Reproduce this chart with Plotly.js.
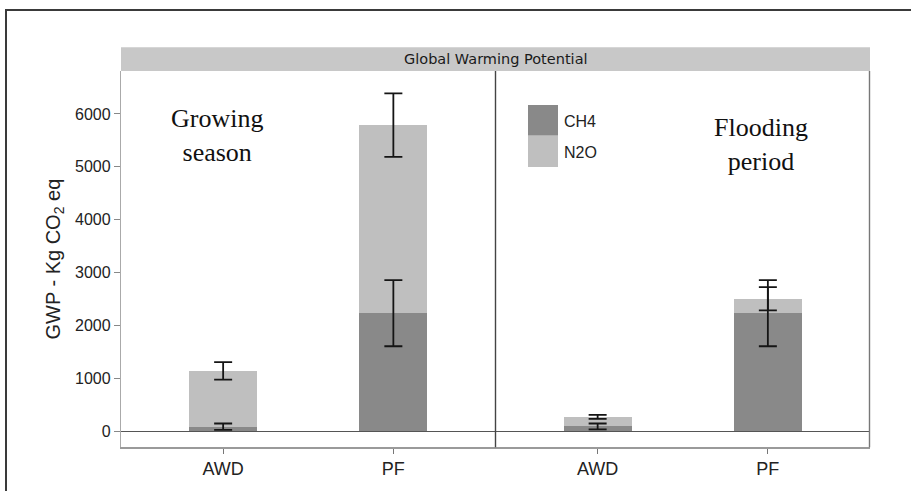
<!DOCTYPE html>
<html>
<head>
<meta charset="utf-8">
<script src="https://cdn.plot.ly/plotly-3.0.1.min.js"></script>
<style>html,body{margin:0;padding:0;background:#fff;}#chart{width:911px;height:491px;}</style>
</head>
<body>
<div id="chart"></div>
<script>
// ---- data ----
const categories = ['AWD', 'PF'];
const gases = ['CH4', 'N2O'];
// Growing season
const growingCH4 = [90, 2235];
const growingN2O = [1053, 3555];
const growingCH4Err = [60, 625];
const growingTotalErr = [165, 600];
// Flooding period
const floodingCH4 = [95, 2235];
const floodingN2O = [180, 274];
const floodingCH4Err = [55, 625];
const floodingTotalErr = [38, 220];
const yTicks = [0, 1000, 2000, 3000, 4000, 5000, 6000];

// ---- styling ----
const W = 911, H = 491;
const px = x => x / W;
const py = y => 1 - y / H;
const darkCol = '#898989';
const lightCol = '#bfbfbf';
const errStyle = v => ({type: 'data', array: v, visible: true, color: '#151515', thickness: 1.8, width: 9});
const barW = 0.4;
const sum = (a, b) => a.map((v, i) => v + b[i]);

function errTrace(y, err, xa) {
  return {type: 'scatter', mode: 'markers', x: categories, y: y, xaxis: xa, yaxis: 'y',
          marker: {size: 1, opacity: 0}, error_y: errStyle(err), showlegend: false, hoverinfo: 'skip'};
}

const traces = [
  {type: 'bar', x: categories, y: growingCH4, name: gases[0], marker: {color: darkCol}, width: barW,
   xaxis: 'x', yaxis: 'y', showlegend: false},
  {type: 'bar', x: categories, y: growingN2O, name: gases[1], marker: {color: lightCol}, width: barW,
   xaxis: 'x', yaxis: 'y', showlegend: false},
  {type: 'bar', x: categories, y: floodingCH4, name: gases[0], marker: {color: darkCol}, width: barW,
   xaxis: 'x2', yaxis: 'y', showlegend: false},
  {type: 'bar', x: categories, y: floodingN2O, name: gases[1], marker: {color: lightCol}, width: barW,
   xaxis: 'x2', yaxis: 'y', showlegend: false},
  errTrace(growingCH4, growingCH4Err, 'x'),
  errTrace(sum(growingCH4, growingN2O), growingTotalErr, 'x'),
  errTrace(floodingCH4, floodingCH4Err, 'x2'),
  errTrace(sum(floodingCH4, floodingN2O), floodingTotalErr, 'x2')
];

const xCommon = {
  type: 'category', range: [-0.6, 1.6], showgrid: false, zeroline: false,
  showline: true, linecolor: '#9a9a9a', linewidth: 1.2,
  ticks: 'outside', ticklen: 5, tickcolor: '#777', tickwidth: 1,
  tickfont: {family: 'Liberation Sans, Arial, sans-serif', size: 18, color: '#222'},
  anchor: 'y', fixedrange: true
};

const layout = {
  width: W, height: H,
  margin: {l: 0, r: 0, t: 0, b: 0},
  paper_bgcolor: '#fff', plot_bgcolor: 'rgba(0,0,0,0)',
  barmode: 'stack', showlegend: false,
  xaxis: Object.assign({}, xCommon, {domain: [px(121), px(495.5)]}),
  xaxis2: Object.assign({}, xCommon, {domain: [px(495.5), px(870)]}),
  yaxis: {
    domain: [py(447.3), py(71)], range: [-300, 6812],
    tickvals: yTicks, ticktext: yTicks.map(String),
    showgrid: false, zeroline: true, zerolinecolor: '#555', zerolinewidth: 1.6,
    showline: true, linecolor: '#aaaaaa', linewidth: 1.2,
    ticks: 'outside', ticklen: 6, tickcolor: '#888', tickwidth: 1,
    tickfont: {family: 'Liberation Sans, Arial, sans-serif', size: 16, color: '#222'},
    title: {text: 'GWP - Kg CO<sub>2</sub> eq', standoff: 9,
            font: {family: 'Liberation Sans, Arial, sans-serif', size: 20, color: '#222'}},
    automargin: false, fixedrange: true
  },
  shapes: [
    // outer frame (top + left)
    {type: 'path', xref: 'paper', yref: 'paper',
     path: `M ${px(6)} ${py(491)} L ${px(6)} ${py(10)} L ${px(911)} ${py(10)}`,
     line: {color: '#3a3a3a', width: 2}},
    // strip
    {type: 'rect', xref: 'paper', yref: 'paper', x0: px(121), x1: px(870), y0: py(71), y1: py(47.3),
     fillcolor: '#c8c8c8', line: {width: 0}},
    // panel divider
    {type: 'line', xref: 'paper', yref: 'paper', x0: px(495.5), x1: px(495.5), y0: py(447.3), y1: py(71),
     line: {color: '#444', width: 1.4}},
    // right border
    {type: 'line', xref: 'paper', yref: 'paper', x0: px(869.5), x1: px(869.5), y0: py(447.3), y1: py(71),
     line: {color: '#777', width: 1.4}},
    // legend keys
    {type: 'rect', xref: 'paper', yref: 'paper', x0: px(528), x1: px(558), y0: py(135.7), y1: py(105),
     fillcolor: darkCol, line: {width: 0}},
    {type: 'rect', xref: 'paper', yref: 'paper', x0: px(528), x1: px(558), y0: py(167), y1: py(135.7),
     fillcolor: lightCol, line: {width: 0}}
  ],
  annotations: [
    {xref: 'paper', yref: 'paper', x: px(496), y: py(58.5), text: 'Global Warming Potential', showarrow: false,
     xanchor: 'center', yanchor: 'middle',
     font: {family: 'DejaVu Sans, sans-serif', size: 14.5, color: '#1a1a1a'}},
    {xref: 'paper', yref: 'paper', x: px(562), y: py(121), text: gases[0], showarrow: false,
     xanchor: 'left', yanchor: 'middle',
     font: {family: 'Liberation Sans, Arial, sans-serif', size: 16, color: '#222'}},
    {xref: 'paper', yref: 'paper', x: px(562), y: py(152), text: gases[1], showarrow: false,
     xanchor: 'left', yanchor: 'middle',
     font: {family: 'Liberation Sans, Arial, sans-serif', size: 16, color: '#222'}},
    {xref: 'paper', yref: 'paper', x: px(217), y: py(136), text: 'Growing<br>season', showarrow: false,
     xanchor: 'center', yanchor: 'middle', align: 'center',
     font: {family: 'Liberation Serif, Times New Roman, serif', size: 26, color: '#111'}},
    {xref: 'paper', yref: 'paper', x: px(761), y: py(144), text: 'Flooding<br>period', showarrow: false,
     xanchor: 'center', yanchor: 'middle', align: 'center',
     font: {family: 'Liberation Serif, Times New Roman, serif', size: 26, color: '#111'}}
  ]
};

Plotly.newPlot('chart', traces, layout, {displayModeBar: false, staticPlot: true});
</script>
</body>
</html>
